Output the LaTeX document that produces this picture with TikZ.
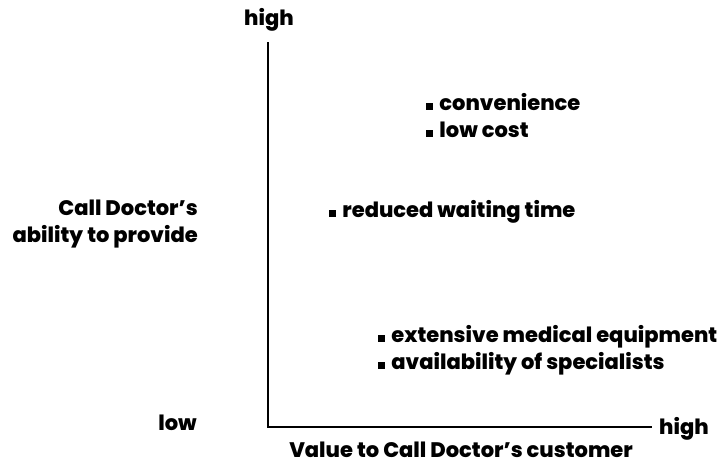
\documentclass[tikz,border=0pt]{standalone}
\usepackage{fontspec}
\setmainfont{Poppins}[UprightFont=* ExtraBold]
\usepackage{tikz}
\usetikzlibrary{positioning}

% small filled square used as item marker
\newcommand{\sqmark}{\rule{0.33em}{0.33em}\hspace{0.3em}}

\begin{document}
\begin{tikzpicture}[x=1pt, y=-1pt, font=\fontsize{21}{27}\selectfont,
  axis/.style={line width=1.4pt},
  lbl/.style={inner sep=0pt},
  item/.style={lbl, anchor=base west, align=left}
]
  \useasboundingbox (0,0) rectangle (723,464);

  % axes
  \coordinate (origin) at (268,427);
  \coordinate (ytop) at (268,42);
  \coordinate (xend) at (652,427);
  \draw[axis] (ytop) -- (origin) -- (xend);

  % axis labels (base = last line of a node)
  \node[lbl, anchor=base] (yhigh) at (269,25) {high};
  \node[lbl, anchor=base east] (ylow) at (197,430) {low};
  \node[lbl, anchor=base west] (xhigh) at (659,434) {high};
  \node[lbl, anchor=base east, align=right] (ytitle) at (198,242) {Call Doctor’s\\ability to provide};
  \node[lbl, anchor=base] (xtitle) at (461,457) {Value to Call Doctor’s customer};

  % items
  \node[item] (conv) at (426,137) {\sqmark convenience\\\sqmark low cost};
  \node[item] (wait) at (329,217) {\sqmark reduced waiting time};
  \node[item] (equip) at (378,369) {\sqmark extensive medical equipment\\\sqmark availability of specialists};
\end{tikzpicture}
\end{document}
